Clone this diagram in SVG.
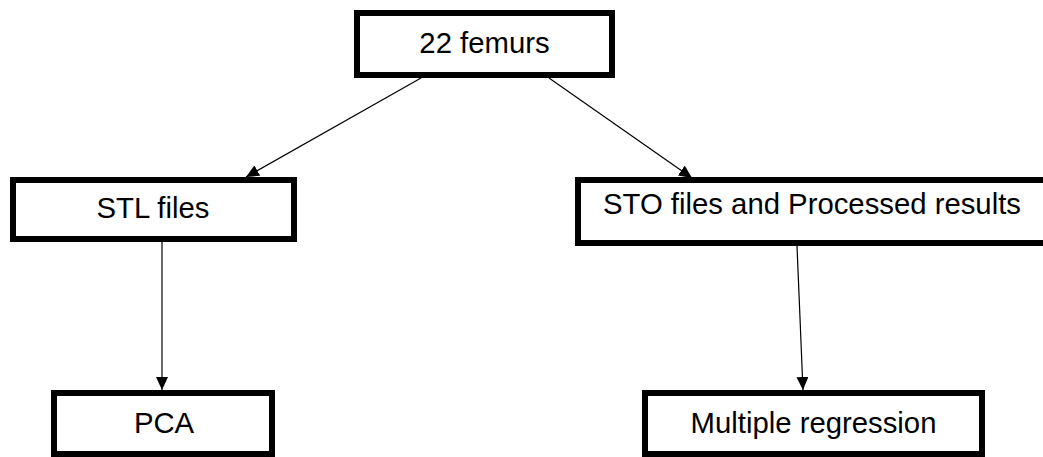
<svg xmlns="http://www.w3.org/2000/svg" width="1043" height="457" viewBox="0 0 1043 457">
<style>
.box{fill:#fff;stroke:#000;stroke-width:6}
.lbl{font-family:"Liberation Sans",Arial,sans-serif;font-size:29.3px;fill:#000;text-anchor:middle}
.conn{stroke:#000;stroke-width:1.2;fill:none;marker-end:url(#ah)}
</style>
<defs>
<marker id="ah" markerUnits="userSpaceOnUse" markerWidth="14" markerHeight="12" refX="13" refY="6" orient="auto">
<path d="M0,0 L13,6 L0,12 Z" fill="#000"/>
</marker>
</defs>
<rect width="1043" height="457" fill="#fff"/>
<g id="connectors">
<line class="conn" x1="421" y1="78" x2="246" y2="177"/>
<line class="conn" x1="549" y1="78" x2="692" y2="178"/>
<line class="conn" x1="162" y1="242" x2="162" y2="390"/>
<line class="conn" x1="797" y1="246" x2="803" y2="390"/>
</g>
<g id="n-femurs">
<rect class="box" x="357" y="13" width="255" height="62"/>
<text class="lbl" x="484.5" y="53">22 femurs</text>
</g>
<g id="n-stl">
<rect class="box" x="13" y="180" width="281" height="59"/>
<text class="lbl" x="153" y="218">STL files</text>
</g>
<g id="n-sto">
<rect class="box" x="578" y="180" width="468" height="63"/>
<text class="lbl" x="812" y="214">STO files and Processed results</text>
</g>
<g id="n-pca">
<rect class="box" x="54" y="393" width="218" height="61"/>
<text class="lbl" x="164" y="433">PCA</text>
</g>
<g id="n-mr">
<rect class="box" x="645" y="393" width="337" height="61"/>
<text class="lbl" x="813.5" y="433">Multiple regression</text>
</g>
</svg>
